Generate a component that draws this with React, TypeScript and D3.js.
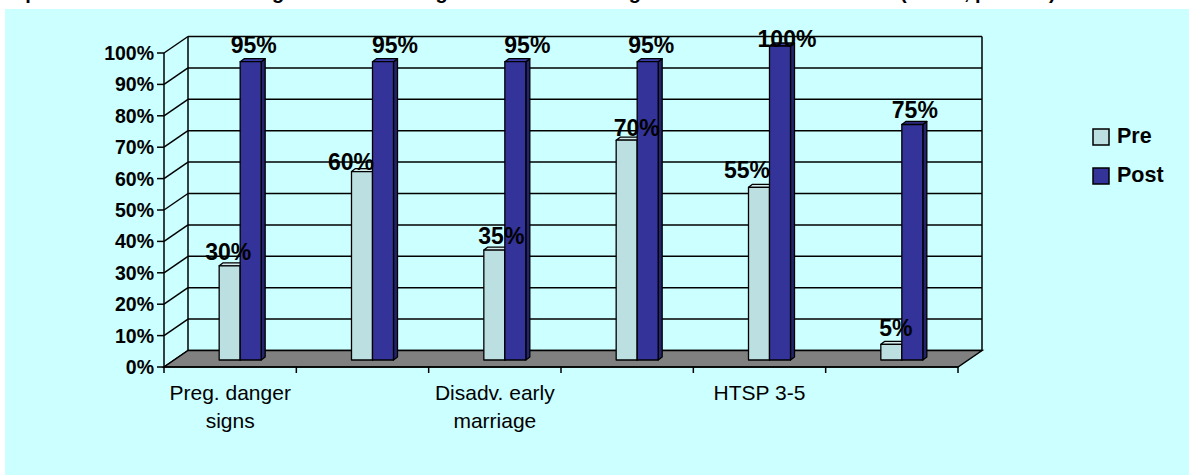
import React from "react";
import * as d3 from "d3";

// ---- data ----
const categoryLabels: string[][] = [
  ["Preg. danger", "signs"],
  [],
  ["Disadv. early", "marriage"],
  [],
  ["HTSP 3-5"],
  [],
];
const seriesNames = ["Pre", "Post"];
const preValues = [30, 60, 35, 70, 55, 5];
const postValues = [95, 95, 95, 95, 100, 75];
const yTicks = [0, 10, 20, 30, 40, 50, 60, 70, 80, 90, 100];
const titleText =
  "Improvement in the knowledge of adolescent girls after the training sessions on health issues (n=100, p<0.001)";

// ---- style ----
const W = 1189;
const H = 475;
const FONT = "'Liberation Sans', Arial, Helvetica, sans-serif";
const BG = "#CCFFFF";
const PRE = "#BCDFE2";
const PRE_TOP = "#D4ECEE";
const PRE_SIDE = "#98BCC0";
const POST = "#333399";
const POST_TOP = "#3A3AA8";
const POST_SIDE = "#24246E";
// label nudges (Excel-like data-label placement), in px
const preLabelDx = [-1.5, -11, 7, 10, -12, 4.5];
const preLabelDy = [-6, -2, -6, -4, -9, -8];
const postLabelDx = [3, 12, 12, 3.5, 7, 2.5];
const postLabelDy = [-9, -9, -9, -9, -9, -7];

export default function App() {
  const n = categoryLabels.length;
  const x = d3.scaleBand<number>().domain(d3.range(n)).range([164, 958]);
  const y = d3.scaleLinear().domain([0, 100]).range([367, 53]);
  const DX = 24;
  const DY = -16.5;
  const BX = 10;
  const BY = -7;
  const bw = 21;
  const bdx = 4;
  const bdy = -3;
  const plotTop = 30;
  const fmt = (v: number) => `${v}%`;
  const pts = (a: [number, number][]) => a.map((p) => p.join(",")).join(" ");

  const x0 = x.range()[0];
  const x1 = x.range()[1];
  const series = [preValues, postValues];
  const ldx = [preLabelDx, postLabelDx];
  const ldy = [preLabelDy, postLabelDy];
  const fills = [
    [PRE, PRE_TOP, PRE_SIDE],
    [POST, POST_TOP, POST_SIDE],
  ];

  return (
    <svg
      width={W}
      height={H}
      style={{ position: "absolute", left: 0, top: 0, display: "block" }}
      fontFamily={FONT}
    >
      <rect x={0} y={0} width={W} height={H} fill="#ffffff" />
      <text x={2} y={-1.5} fontSize={20} fontWeight="bold" fill="#000">
        {titleText}
      </text>
      <rect x={5} y={9} width={W - 5} height={H - 9} fill={BG} />

      {/* walls */}
      <polygon
        points={pts([
          [x0, y(100)],
          [x0 + DX, y(100) + DY],
          [x0 + DX, y(0) + DY],
          [x0, y(0)],
        ])}
        fill={BG}
      />
      {yTicks.map((v) => (
        <g key={"g" + v} stroke="#000" strokeWidth={1.5}>
          <line x1={x0} y1={y(v)} x2={x0 + DX} y2={y(v) + DY} />
          <line x1={x0 + DX} y1={y(v) + DY} x2={x1 + DX} y2={y(v) + DY} />
        </g>
      ))}
      <line x1={x0 + DX} y1={y(100) + DY} x2={x0 + DX} y2={y(0) + DY} stroke="#000" strokeWidth={1.5} />
      <line x1={x1 + DX} y1={y(100) + DY} x2={x1 + DX} y2={y(0) + DY} stroke="#000" strokeWidth={1.5} />

      {/* floor */}
      <polygon
        points={pts([
          [x0, y(0)],
          [x1, y(0)],
          [x1 + DX, y(0) + DY],
          [x0 + DX, y(0) + DY],
        ])}
        fill="#808080"
        stroke="#000"
        strokeWidth={1.5}
      />

      {/* bars */}
      {d3.range(n).map((i) => (
        <g key={"c" + i}>
          {series.map((vals, s) => {
            const v = vals[i];
            const c = (x(i) as number) + x.bandwidth() / 2 + BX;
            const left = s === 0 ? c - bw : c;
            const right = left + bw;
            const top = y(v) + BY;
            const bottom = y(0) + BY;
            return (
              <g key={"b" + s} stroke="#000" strokeWidth={1.3} strokeLinejoin="round">
                <polygon
                  points={pts([
                    [right, top],
                    [right + bdx, top + bdy],
                    [right + bdx, bottom + bdy],
                    [right, bottom],
                  ])}
                  fill={fills[s][2]}
                />
                <polygon
                  points={pts([
                    [left, top],
                    [left + bdx, top + bdy],
                    [right + bdx, top + bdy],
                    [right, top],
                  ])}
                  fill={fills[s][1]}
                />
                <rect x={left} y={top} width={bw} height={bottom - top} fill={fills[s][0]} />
              </g>
            );
          })}
        </g>
      ))}

      {/* value labels */}
      {d3.range(n).map((i) =>
        series.map((vals, s) => {
          const v = vals[i];
          const c = (x(i) as number) + x.bandwidth() / 2 + BX;
          const left = s === 0 ? c - bw : c;
          const top = y(v) + BY;
          const ly = Math.max(top + ldy[s][i], plotTop + 17);
          return (
            <text
              key={"l" + i + "-" + s}
              x={left + bw / 2 + ldx[s][i]}
              y={ly}
              textAnchor="middle"
              fontSize={23}
              fontWeight="bold"
              fill="#000"
            >
              {fmt(v)}
            </text>
          );
        })
      )}

      {/* front value axis */}
      <line x1={x0} y1={y(0)} x2={x0} y2={y(100)} stroke="#000" strokeWidth={1.5} />
      {yTicks.map((v) => (
        <g key={"t" + v}>
          <line x1={x0 - 7} y1={y(v)} x2={x0} y2={y(v)} stroke="#000" strokeWidth={1.5} />
          <text x={154} y={y(v) + 7} textAnchor="end" fontSize={19.5} fontWeight="bold" fill="#000">
            {fmt(v)}
          </text>
        </g>
      ))}

      {/* category axis */}
      <line x1={x0} y1={y(0)} x2={x1} y2={y(0)} stroke="#000" strokeWidth={1.5} />
      {d3.range(n + 1).map((i) => {
        const xx = x0 + i * x.step();
        return <line key={"xt" + i} x1={xx} y1={y(0)} x2={xx} y2={y(0) + 6} stroke="#000" strokeWidth={1.5} />;
      })}
      {categoryLabels.map((lines, i) => (
        <text key={"cl" + i} textAnchor="middle" fontSize={21} fill="#000">
          {lines.map((ln, k) => (
            <tspan key={k} x={(x(i) as number) + x.bandwidth() / 2} y={400 + k * 28}>
              {ln}
            </tspan>
          ))}
        </text>
      ))}

      {/* legend */}
      {seriesNames.map((name, s) => (
        <g key={"lg" + s}>
          <rect x={1093} y={129 + s * 39} width={16} height={16} fill={fills[s][0]} stroke="#000" strokeWidth={1.5} />
          <text x={1117} y={143 + s * 39} fontSize={21.5} fontWeight="bold" fill="#000">
            {name}
          </text>
        </g>
      ))}
    </svg>
  );
}
